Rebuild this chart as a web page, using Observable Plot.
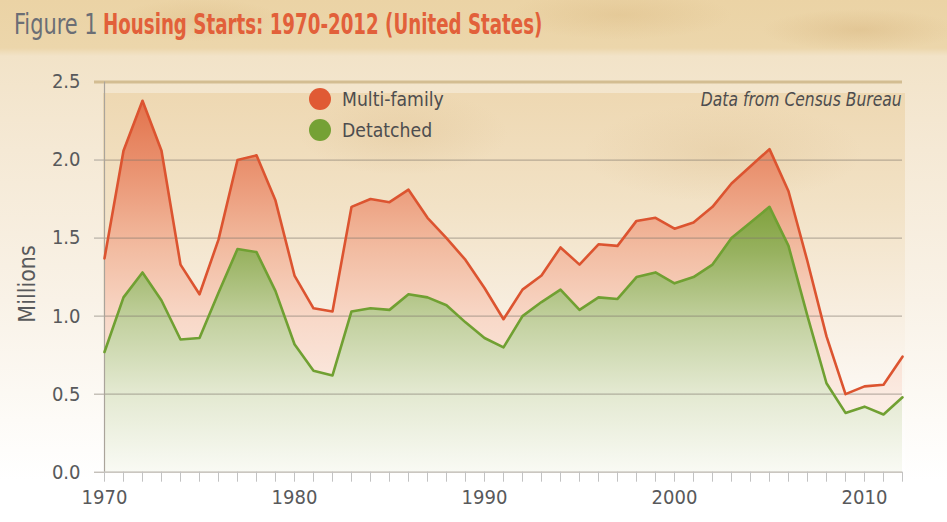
<!DOCTYPE html>
<html>
<head>
<meta charset="utf-8">
<script src="https://cdn.jsdelivr.net/npm/d3@7"></script>
<script src="https://cdn.jsdelivr.net/npm/@observablehq/plot@0.6"></script>
<style>
  html, body { margin: 0; padding: 0; }
  body {
    width: 947px; height: 522px; overflow: hidden; position: relative;
    font-family: "Liberation Sans Narrow", "DejaVu Sans Condensed", "Roboto", sans-serif;
    color: #58595b;
    background:
      radial-gradient(ellipse 120px 30px at 200px 20px, rgba(214,178,120,0.30), rgba(214,178,120,0) 70%),
      radial-gradient(ellipse 160px 35px at 620px 15px, rgba(214,178,120,0.30), rgba(214,178,120,0) 70%),
      radial-gradient(ellipse 140px 30px at 860px 30px, rgba(205,165,105,0.30), rgba(205,165,105,0) 70%),
      linear-gradient(to bottom, #ebd3a5 0px, #ecd6ab 48px, #f2e3c8 56px, #f5e9d5 150px, #f9f2e7 300px, #fdfbf7 420px, #ffffff 480px);
  }
  #title { position: relative; height: 50px; font-size: 28px; white-space: nowrap; }
  #title span { position: absolute; top: 0; line-height: 50px; display: inline-block; transform-origin: left center; }
  #title .fig { left: 14px; color: #6b6e75; transform: scaleX(0.83); }
  #title .main { left: 103px; color: #e2603a; font-weight: bold; transform: scaleX(0.724); }
  #panel {
    position: absolute; left: 103px; top: 93px; width: 802px; height: 379px;
    background:
      radial-gradient(ellipse 150px 60px at 300px 40px, rgba(210,175,120,0.22), rgba(210,175,120,0) 70%),
      radial-gradient(ellipse 200px 70px at 620px 60px, rgba(210,175,120,0.22), rgba(210,175,120,0) 70%),
      linear-gradient(to bottom, #eed8b2 0%, #f2e2c6 30%, #f8efe2 60%, #fdfbf8 85%, #ffffff 100%);
  }
  #chart { position: relative; }
  #chart svg { display: block; }
  .legend { position: absolute; left: 309px; font-size: 20px; color: #4d4d4f; }
  .legend .dot { position: absolute; left: 0; width: 22px; height: 22px; border-radius: 50%; }
  .legend .lab { position: absolute; left: 33px; white-space: nowrap; line-height: 22px; transform-origin: left center; transform: scaleX(0.96); }
  #note { position: absolute; right: 45px; top: 88px; font-size: 19px; font-style: italic; color: #4d4d4f; white-space: nowrap; transform-origin: right center; transform: scaleX(0.91); }
  #ylabel { position: absolute; left: 27px; top: 284px; transform: translate(-50%, -50%) rotate(-90deg); font-size: 23px; color: #58595b; white-space: nowrap; }
</style>
</head>
<body>
<div id="panel"></div>
<div id="title"><span class="fig">Figure 1</span><span class="main">Housing Starts: 1970-2012 (United States)</span></div>
<div id="chart"></div>
<div class="legend" style="top:88px"><div class="dot" style="background:#e05a34"></div><div class="lab">Multi-family</div></div>
<div class="legend" style="top:119px"><div class="dot" style="background:#75a135"></div><div class="lab">Detatched</div></div>
<div id="note">Data from Census Bureau</div>
<div id="ylabel">Millions</div>
<script>
const years = d3.range(1970, 2013);
const multiFamily = [
  1.37, 2.06, 2.38, 2.06, 1.33, 1.14, 1.49, 2.00, 2.03, 1.74,
  1.26, 1.05, 1.03, 1.70, 1.75, 1.73, 1.81, 1.63, 1.50, 1.36,
  1.18, 0.98, 1.17, 1.26, 1.44, 1.33, 1.46, 1.45, 1.61, 1.63,
  1.56, 1.60, 1.70, 1.85, 1.96, 2.07, 1.80, 1.35, 0.87, 0.50,
  0.55, 0.56, 0.74
];
const detached = [
  0.77, 1.12, 1.28, 1.10, 0.85, 0.86, 1.15, 1.43, 1.41, 1.16,
  0.82, 0.65, 0.62, 1.03, 1.05, 1.04, 1.14, 1.12, 1.07, 0.96,
  0.86, 0.80, 1.00, 1.09, 1.17, 1.04, 1.12, 1.11, 1.25, 1.28,
  1.21, 1.25, 1.33, 1.50, 1.60, 1.70, 1.45, 1.00, 0.57, 0.38,
  0.42, 0.37, 0.48
];
const yTicks = [0, 0.5, 1.0, 1.5, 2.0];
const yTopTick = [2.5];
const xLabelYears = [1970, 1980, 1990, 2000, 2010];

const rows = years.map((year, i) => ({year, multi: multiFamily[i], det: detached[i]}));

const font = '"Liberation Sans Narrow", "DejaVu Sans Condensed", "Roboto", sans-serif';

const plot = Plot.plot({
  width: 947,
  height: 472,
  marginTop: 31.5,
  marginBottom: 50.3,
  marginLeft: 104,
  marginRight: 45,
  style: {background: "transparent", fontFamily: font, fontSize: "20px", color: "#58595b", overflow: "visible"},
  x: {domain: [1970, 2012]},
  y: {domain: [0, 2.5]},
  marks: [
    Plot.areaY(rows, {x: "year", y: "multi", fill: "url(#gradMulti)"}),
    Plot.areaY(rows, {x: "year", y: "det", fill: "url(#gradDet)"}),
    Plot.gridY(yTicks.slice(1), {stroke: "#7d766c", strokeOpacity: 0.5, strokeWidth: 1.3}),
    Plot.ruleY(yTopTick, {stroke: "#d3bd92", strokeWidth: 3}),
    Plot.ruleX([1970], {stroke: "#aaa49b", strokeWidth: 1.2}),
    Plot.ruleY([0], {stroke: "#b8b3ab", strokeWidth: 1.2}),
    Plot.axisY(yTicks, {tickSize: 10, tickPadding: 14, tickFormat: d => d.toFixed(1), stroke: "#aaa49b", fill: "#58595b", fontSize: 20, label: null}),
    Plot.axisY(yTopTick, {tickSize: 10, tickPadding: 14, tickFormat: d => d.toFixed(1), stroke: "#d3bd92", strokeWidth: 3, fill: "#58595b", fontSize: 20, label: null}),
    Plot.axisX(years, {tickSize: 10, tickPadding: 8, tickFormat: d => xLabelYears.includes(d) ? String(d) : "", stroke: "#c2c2c2", fill: "#58595b", fontSize: 20, label: null}),
    Plot.line(rows, {x: "year", y: "multi", stroke: "#dc5430", strokeWidth: 2.6}),
    Plot.line(rows, {x: "year", y: "det", stroke: "#70a032", strokeWidth: 2.6})
  ]
});

document.getElementById("chart").appendChild(plot);

const ys = plot.scale("y");
const NS = "http://www.w3.org/2000/svg";
const defs = document.createElementNS(NS, "defs");
function grad(id, y1, y2, stops) {
  const g = document.createElementNS(NS, "linearGradient");
  g.setAttribute("id", id);
  g.setAttribute("gradientUnits", "userSpaceOnUse");
  g.setAttribute("x1", 0); g.setAttribute("x2", 0);
  g.setAttribute("y1", y1); g.setAttribute("y2", y2);
  for (const [o, c] of stops) {
    const s = document.createElementNS(NS, "stop");
    s.setAttribute("offset", o);
    s.setAttribute("stop-color", c);
    g.appendChild(s);
  }
  defs.appendChild(g);
}
grad("gradMulti", ys.apply(2.4), ys.apply(0), [
  [0, "#e2714a"], [0.2, "#ea9472"], [0.4, "#f2bba0"], [0.6, "#f8d9c9"], [0.8, "#fbebe2"], [1, "#fdf7f3"]
]);
grad("gradDet", ys.apply(1.75), ys.apply(0), [
  [0, "#7c9f38"], [0.2, "#98b260"], [0.45, "#c3d1a0"], [0.7, "#e2e8cf"], [1, "#f9faf4"]
]);
plot.insertBefore(defs, plot.firstChild);
</script>
</body>
</html>
